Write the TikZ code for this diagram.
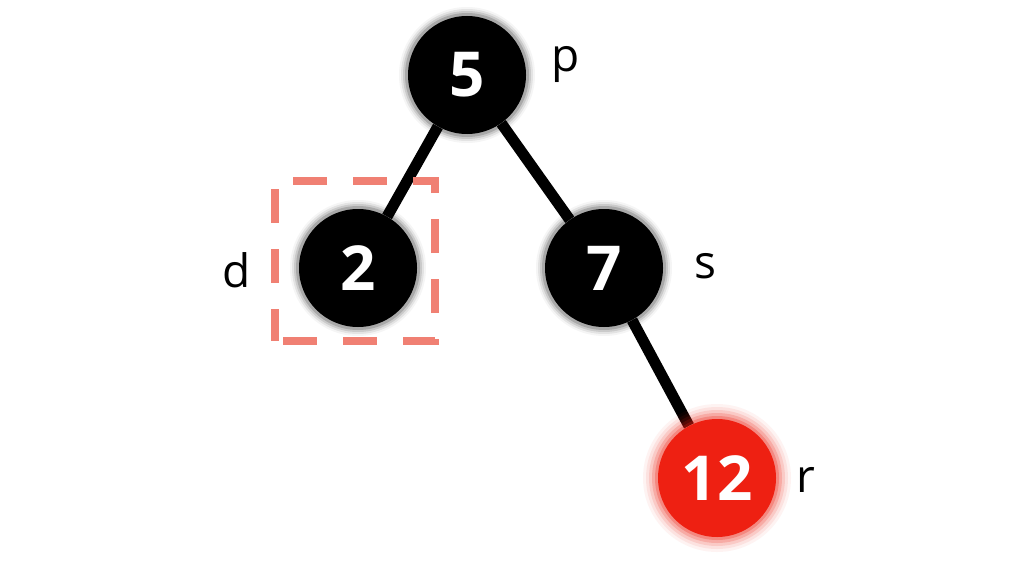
\documentclass[tikz,border=0pt]{standalone}
\usepackage{fontspec}
\usetikzlibrary{backgrounds}
\setmainfont{Open Sans}
\definecolor{boxred}{RGB}{240,128,115}
\definecolor{nodered}{RGB}{238,32,18}
\tikzset{
  bnode/.style={circle, fill=black, minimum size=118pt, inner sep=0pt, text=white, font=\fontsize{62}{62}\selectfont\bfseries},
  rnode/.style={bnode, fill=nodered},
  lbl/.style={font=\fontsize{46}{46}\selectfont, text=black},
  edge/.style={line width=11pt, black},
  dbox/.style={draw=boxred, line width=8pt, dash pattern=on 34pt off 26pt, dash phase=-8pt},
}
\newcommand{\glowat}[2]{%
  \foreach \r/\o in {68/0.04,66/0.07,64/0.11,62/0.16}{\fill[black, opacity=\o] (#1) circle (\r pt);}%
}
\newcommand{\redglowat}[1]{%
  \foreach \r/\o in {74/0.05,71/0.08,68/0.12,65/0.18,62/0.25}{\fill[nodered, opacity=\o] (#1) circle (\r pt);}%
}
\begin{document}
\begin{tikzpicture}[x=1pt,y=-1pt]
\useasboundingbox (0,0) rectangle (1011,583);
\node[bnode] (n5) at (467,75) {5};
\node[bnode] (n2) at (358,268) {2};
\node[bnode] (n7) at (604,268) {7};
\node[rnode] (n12) at (717,478) {12};
\begin{scope}[on background layer]
\fill[white] (0,0) rectangle (1011,583);
\draw[edge] (n5) -- (n2);
\draw[edge] (n5) -- (n7);
\draw[edge] (n7) -- (n12);
\glowat{n5.center}{}
\glowat{n2.center}{}
\glowat{n7.center}{}
\redglowat{n12.center}
\end{scope}
\node[lbl] (lp) at (566,64) {p};
\node[lbl] (ld) at (237,270) {d};
\node[lbl] (ls) at (705,266) {s};
\node[lbl] (lr) at (806,480) {r};
\node[dbox, minimum width=160pt, minimum height=160pt, inner sep=0pt, rectangle] (box) at (355,261) {};
\end{tikzpicture}
\end{document}
